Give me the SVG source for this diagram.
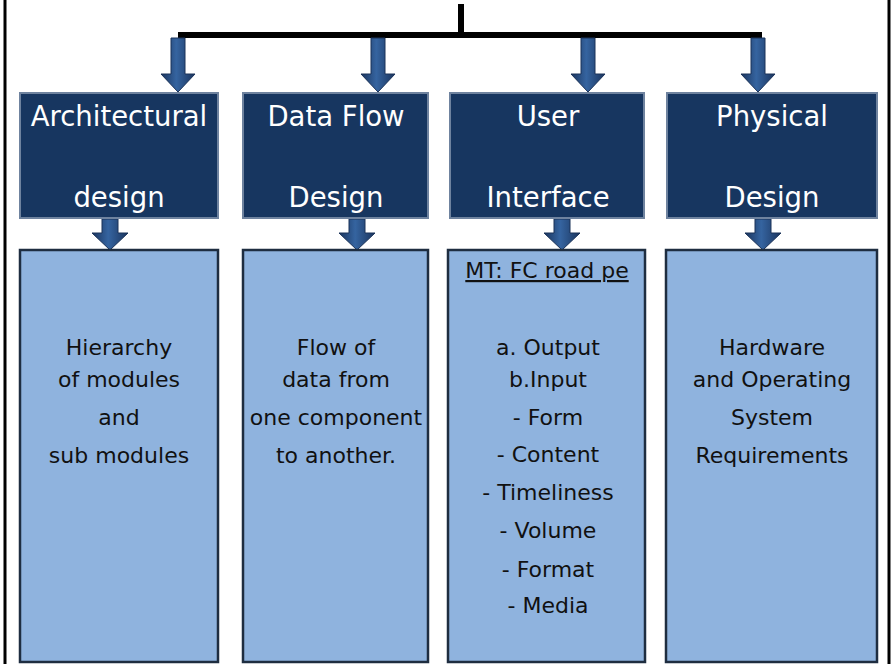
<svg xmlns="http://www.w3.org/2000/svg" width="892" height="664" viewBox="0 0 892 664">
  <defs>
    <linearGradient id="arrowGrad" x1="0" y1="0" x2="1" y2="0">
      <stop offset="0" stop-color="#1b355e"/>
      <stop offset="0.45" stop-color="#3564a0"/>
      <stop offset="1" stop-color="#1b355e"/>
    </linearGradient>
    <style>
      .frame { stroke: #000; stroke-width: 3; fill: none; }
      .bar { stroke: #000; stroke-width: 6; fill: none; }
      .arrow { fill: url(#arrowGrad); stroke: #1a3258; stroke-width: 1; }
      .head { fill: #173660; stroke: #6f839f; stroke-width: 2; }
      .body { fill: #8fb3de; stroke: #1e2d40; stroke-width: 2.5; }
      .ht { fill: #ffffff; font-family: "DejaVu Sans", "Noto Sans", sans-serif; font-size: 27.5px; text-anchor: middle; }
      .bt { fill: #111111; font-family: "DejaVu Sans", "Noto Sans", sans-serif; font-size: 22px; text-anchor: middle; }
    </style>
  </defs>
  <rect x="0" y="0" width="892" height="664" fill="#ffffff"/>
  <line class="frame" x1="5" y1="0" x2="5" y2="664"/>
  <line class="frame" x1="889" y1="0" x2="889" y2="664"/>

  <g id="connectors">
    <line class="bar" x1="461" y1="4" x2="461" y2="36"/>
    <line class="bar" x1="178" y1="35" x2="762" y2="35"/>
    <path class="arrow" d="M171,38 H185 V74 H195 L178,92 L161,74 H171 Z"/>
    <path class="arrow" d="M371,38 H385 V74 H395 L378,92 L361,74 H371 Z"/>
    <path class="arrow" d="M581,38 H595 V74 H605 L588,92 L571,74 H581 Z"/>
    <path class="arrow" d="M751,38 H765 V74 H775 L758,92 L741,74 H751 Z"/>
    <path class="arrow" d="M102,219 H118 V233 H128 L110,250 L92,233 H102 Z"/>
    <path class="arrow" d="M349,219 H365 V233 H375 L357,250 L339,233 H349 Z"/>
    <path class="arrow" d="M554,219 H570 V233 H580 L562,250 L544,233 H554 Z"/>
    <path class="arrow" d="M755,219 H771 V233 H781 L763,250 L745,233 H755 Z"/>
  </g>

  <g id="architectural-design">
    <rect class="head" x="20" y="93" width="198" height="125"/>
    <text class="ht" x="119" y="126">Architectural</text>
    <text class="ht" x="119" y="207">design</text>
  </g>
  <g id="data-flow-design">
    <rect class="head" x="243" y="93" width="185" height="125"/>
    <text class="ht" x="336" y="126">Data Flow</text>
    <text class="ht" x="336" y="207">Design</text>
  </g>
  <g id="user-interface">
    <rect class="head" x="450" y="93" width="194" height="125"/>
    <text class="ht" x="548" y="126">User</text>
    <text class="ht" x="548" y="207">Interface</text>
  </g>
  <g id="physical-design">
    <rect class="head" x="667" y="93" width="210" height="125"/>
    <text class="ht" x="772" y="126">Physical</text>
    <text class="ht" x="772" y="207">Design</text>
  </g>

  <g id="hierarchy">
    <rect class="body" x="20" y="250" width="198" height="412"/>
    <text class="bt" x="119" y="355">Hierarchy</text>
    <text class="bt" x="119" y="387">of modules</text>
    <text class="bt" x="119" y="425">and</text>
    <text class="bt" x="119" y="463">sub modules</text>
  </g>
  <g id="flow-of-data">
    <rect class="body" x="243" y="250" width="185" height="412"/>
    <text class="bt" x="336" y="355">Flow of</text>
    <text class="bt" x="336" y="387">data from</text>
    <text class="bt" x="336" y="425">one component</text>
    <text class="bt" x="336" y="463">to another.</text>
  </g>
  <g id="ui-details">
    <rect class="body" x="448" y="250" width="197" height="412"/>
    <text class="bt" x="547" y="278" text-decoration="underline">MT: FC road pe</text>
    <text class="bt" x="548" y="355">a. Output</text>
    <text class="bt" x="548" y="387">b.Input</text>
    <text class="bt" x="548" y="425">- Form</text>
    <text class="bt" x="548" y="462">- Content</text>
    <text class="bt" x="548" y="500">- Timeliness</text>
    <text class="bt" x="548" y="538">- Volume</text>
    <text class="bt" x="548" y="577">- Format</text>
    <text class="bt" x="548" y="613">- Media</text>
  </g>
  <g id="hardware">
    <rect class="body" x="666" y="250" width="211" height="412"/>
    <text class="bt" x="772" y="355">Hardware</text>
    <text class="bt" x="772" y="387">and Operating</text>
    <text class="bt" x="772" y="425">System</text>
    <text class="bt" x="772" y="463">Requirements</text>
  </g>
</svg>
